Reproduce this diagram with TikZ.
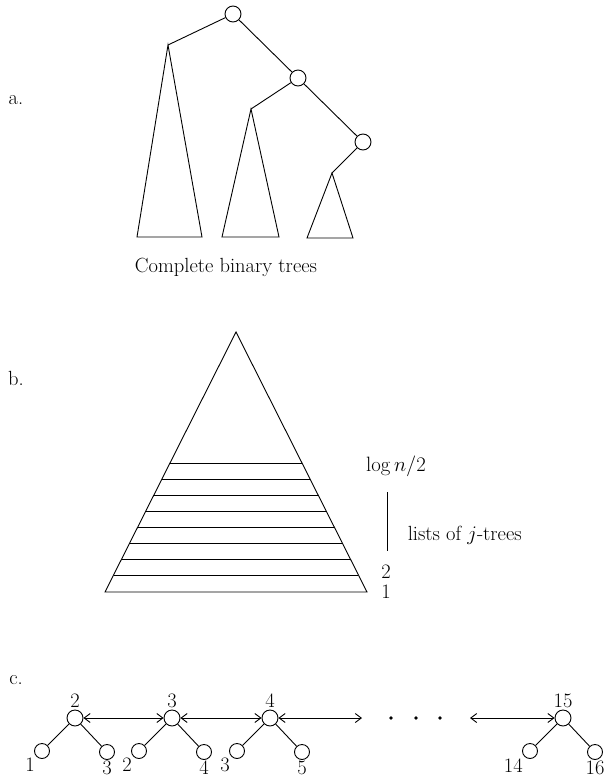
\documentclass[tikz,border=0pt]{standalone}
\usetikzlibrary{arrows.meta}
\begin{document}
\begin{tikzpicture}[x=1pt,y=-1pt,line width=0.9pt,
  every node/.style={font=\fontsize{20.5}{24}\selectfont},
  vert/.style={circle,draw,inner sep=0pt,minimum size=16pt},
  leaf/.style={circle,draw,inner sep=0pt,minimum size=15pt},
  >={Straight Barb[length=6pt,width=9pt]}]
\useasboundingbox (0,0) rectangle (608,780);

\node at (16,100) {a.};
\node[vert] (r1) at (233,14) {};
\node[vert] (r2) at (298,78) {};
\node[vert] (r3) at (363,142) {};
\coordinate (t1) at (168,45);
\coordinate (t2) at (251,109);
\coordinate (t3) at (332,173);
\draw (r1) -- (t1) (r1) -- (r2) -- (t2) (r2) -- (r3) -- (t3);
\draw (t1) -- (137,237) -- (202,237) -- cycle;
\draw (t2) -- (222,237) -- (279,237) -- cycle;
\draw (t3) -- (307,238) -- (353,238) -- cycle;
\node (cap) at (226,267) {Complete binary trees};

\node at (16,378) {b.};
\draw (236,332) -- (105,592) -- (367,592) -- cycle;
\foreach \y in {463,479,...,575}
  \draw ({236-0.5038*(\y-332)},\y) -- ({236+0.5038*(\y-332)},\y);
\node (top) at (396,466) {$\log n/2$};
\draw (387,492) -- (387,551);
\node[right] (lists) at (404,535) {lists of $j$-trees};
\node[inner sep=0pt] (two) at (386,572) {2};
\node[inner sep=0pt] (one) at (386,592) {1};

\node at (16,680) {c.};
\foreach \n/\x/\a/\b in {2/75/1/3, 3/172/2/4, 4/270/3/5, 15/563/14/16} {
  \node[vert,label={[label distance=-2pt]above:\n}] (p\n) at (\x,718) {};
  \node[leaf,label={[label distance=-3pt]below left:\a}] (a\n) at (\x-33,751) {};
  \node[leaf,label={[label distance=-3pt]below:\b}] (b\n) at (\x+32,752) {};
  \draw (p\n) -- (a\n) (p\n) -- (b\n);
}
\coordinate (e1) at (362,718);
\coordinate (e2) at (470,718);
\draw[<->] (p2) -- (p3);
\draw[<->] (p3) -- (p4);
\draw[<->] (p4) -- (e1);
\draw[<->] (e2) -- (p15);
\foreach \x in {391,416,440}
  \fill (\x,718) circle (1.8);
\end{tikzpicture}
\end{document}
